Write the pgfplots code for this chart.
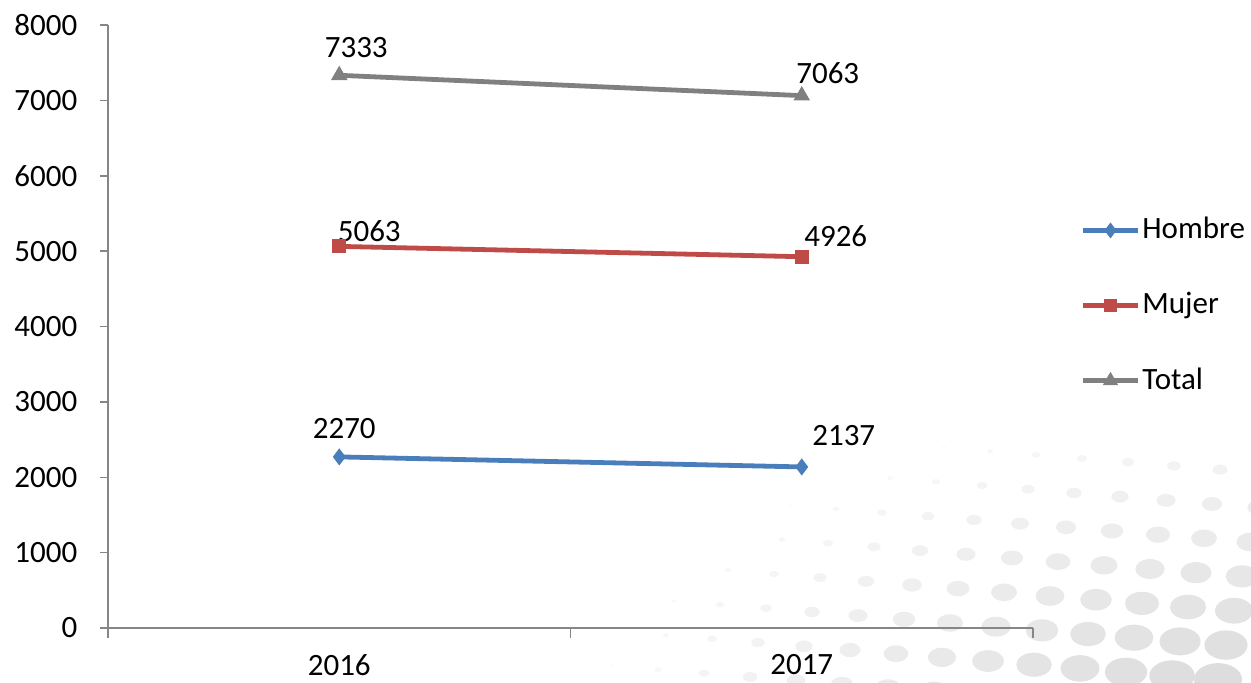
\documentclass[border=0pt]{standalone}
\usepackage{fontspec}
\setmainfont{Carlito}
\usepackage{pgfplots}
\pgfplotsset{compat=1.18}
\definecolor{hombre}{RGB}{74,126,187}
\definecolor{mujer}{RGB}{190,75,72}
\definecolor{total}{RGB}{128,128,128}
\definecolor{axisgrey}{RGB}{134,134,134}

\begin{document}
\fontsize{15.5}{18}\selectfont
\begin{tikzpicture}[x=0.5pt,y=-0.5pt]
\useasboundingbox (0,0) rectangle (1251,683);

% light halftone dots in the lower right (background decoration)
\begin{scope}
\clip (0,0) rectangle (1251,683);
\foreach \j in {0,...,9}{
  \foreach \i in {0,...,24}{
    \pgfmathsetmacro\xx{1266-46*\i-8*\j}
    \pgfmathsetmacro\yy{452+35*\j+0.08*(\xx-1000)}
    \pgfmathsetmacro\rr{30.7-0.082*veclen((\xx-1300)/2,\yy-750)}
    \pgfmathsetmacro\dotc{min(14,1.5+0.5*\rr)}
    \ifdim\rr pt>1.5pt
      \fill[black!\dotc] (\xx,\yy) ellipse [x radius=\rr, y radius=0.68*\rr];
    \fi
}}
\end{scope}

\begin{axis}[
    at={(54pt,-314pt)}, anchor=south west,
    scale only axis, width=462.5pt, height=301.5pt,
    xmin=-0.5, xmax=1.5, ymin=0, ymax=8000,
    axis lines=left,
    axis line style={-, draw=axisgrey, line width=0.75pt},
    xtick={0,1}, xticklabels={2016,2017},
    minor xtick={-0.5,0.5,1.5},
    major x tick style={draw=none},
    minor x tick style={draw=axisgrey, line width=0.75pt},
    ytick={0,1000,...,8000},
    ytick style={draw=axisgrey, line width=0.75pt},
    tick align=outside,
    major tick length=4pt, minor tick length=5pt,
    yticklabel={\pgfmathprintnumber{\tick}},
    /pgf/number format/1000 sep={},
    /pgf/number format/assume math mode=true,
    tick label style={font=\fontsize{15.5}{18}\selectfont},
    yticklabel style={xshift=-6pt},
    xticklabel style={yshift=-4pt},
    clip=false,
    legend style={at={(1.051,0.685)}, anchor=north west, draw=none, fill=none,
                  font=\fontsize{15.5}{18}\selectfont, row sep=22.5pt, inner sep=0pt,
                  nodes={inner sep=1pt}},
    legend cell align=left,
    legend image code/.code={
      \draw[mark repeat=2,mark phase=2,mark size=2pt] plot coordinates {(0pt,0pt) (13.75pt,0pt) (27.5pt,0pt)};
    },
]
\addplot[hombre, line width=2.4pt, mark=diamond*, mark size=2.3pt, mark options={solid}]
  coordinates {(0,2270) (1,2137)};
\addplot[mujer, line width=2.4pt, mark=square*, mark size=2.3pt, mark options={solid}]
  coordinates {(0,5063) (1,4926)};
\addplot[total, line width=2.4pt, mark=triangle*, mark size=2.4pt, mark options={solid}]
  coordinates {(0,7333) (1,7063)};
\legend{Hombre,Mujer,Total}

% data labels
\node[xshift=8.5pt, yshift=14pt] at (axis cs:0,7333) {7333};
\node[xshift=13pt, yshift=11pt] at (axis cs:1,7063) {7063};
\node[xshift=15pt, yshift=7.5pt] at (axis cs:0,5063) {5063};
\node[xshift=17pt, yshift=10.5pt] at (axis cs:1,4926) {4926};
\node[xshift=2.5pt, yshift=14pt] at (axis cs:0,2270) {2270};
\node[xshift=21pt, yshift=15.5pt] at (axis cs:1,2137) {2137};
\end{axis}
\end{tikzpicture}
\end{document}
